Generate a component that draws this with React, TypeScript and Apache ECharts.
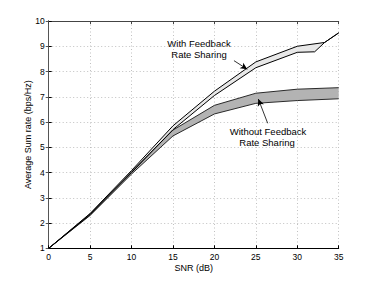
import React, { useEffect, useRef } from "react";
import * as echarts from "echarts";

// SNR axis ticks
const xTicks = [0, 5, 10, 15, 20, 25, 30, 35];

// With feedback rate sharing band (upper / lower boundaries)
const withUpperX = [0, 5, 10, 15, 20, 25, 30, 33.3, 35];
const withUpperY = [1, 2.38, 4.08, 5.85, 7.22, 8.38, 9.0, 9.15, 9.53];
const withLowerX = [0, 5, 10, 15, 20, 25, 30, 32.1, 33.3, 35];
const withLowerY = [1, 2.33, 4.0, 5.7, 7.05, 8.15, 8.76, 8.78, 9.15, 9.53];

// Without feedback rate sharing band
const withoutX = [0, 5, 10, 15, 20, 25, 30, 35];
const withoutUpperY = [1, 2.36, 4.03, 5.68, 6.66, 7.14, 7.3, 7.36];
const withoutLowerY = [1, 2.3, 3.94, 5.45, 6.32, 6.74, 6.85, 6.92];

// Annotation arrows (data coordinates: [from], [to])
const withArrow = [[22.36, 8.43], [23.97, 8.09]];
const withoutArrow = [[26.43, 5.95], [25.3, 6.91]];

const zip = (xs: number[], ys: number[]) => xs.map((x, i) => [x, ys[i]]);

export default function App() {
  const ref = useRef<HTMLDivElement>(null);
  useEffect(() => {
    if (!ref.current) return;
    const chart = echarts.init(ref.current, undefined, { renderer: "svg" });
    const font = "Liberation Sans, Arial, Helvetica, sans-serif";

    const band = (upper: number[][], lower: number[][], fill: string) => ({
      type: "custom",
      clip: true,
      silent: true,
      data: [[0, 1]],
      renderItem: (_p: any, api: any) => {
        const pts = [
          ...upper.map((p) => api.coord(p)),
          ...lower
            .slice()
            .reverse()
            .map((p) => api.coord(p)),
        ];
        return { type: "polygon", shape: { points: pts }, style: { fill, stroke: "none" } };
      },
    });

    const line = (data: number[][], color: string, extra: any = {}) => ({
      type: "line",
      data,
      symbol: "none",
      lineStyle: { color, width: 1 },
      silent: true,
      ...extra,
    });

    const arrowMark = {
      silent: true,
      symbol: ["none", "arrow"],
      symbolSize: [5, 7],
      label: { show: false },
      lineStyle: { color: "#000", width: 0.8, type: "solid" },
      data: [
        [{ coord: withArrow[0] }, { coord: withArrow[1] }],
        [{ coord: withoutArrow[0] }, { coord: withoutArrow[1] }],
      ],
    };

    const axisCommon = {
      axisLine: { show: true, lineStyle: { color: "#000", width: 1 } },
      axisTick: { show: true, inside: true, length: 3, lineStyle: { color: "#000" } },
    };

    chart.setOption({
      animation: false,
      backgroundColor: "#fff",
      grid: { left: 48.7, right: 35.3, top: 21, bottom: 32.7 },
      xAxis: [
        {
          type: "value",
          min: 0,
          max: 35,
          interval: 5,
          name: "SNR (dB)",
          nameLocation: "middle",
          nameGap: 15,
          nameMoveOverlap: false,
          nameTextStyle: { fontFamily: font, fontSize: 9, color: "#000" },
          axisLabel: { fontFamily: font, fontSize: 8.5, color: "#000", margin: 4 },
          splitLine: { show: true, lineStyle: { color: "#b0b0b0", type: [1, 2.5], width: 0.8 } },
          ...axisCommon,
        },
        {
          type: "value",
          position: "top",
          min: 0,
          max: 35,
          interval: 5,
          axisLabel: { show: false },
          splitLine: { show: false },
          axisLine: { show: true, lineStyle: { color: "#444", width: 1 } },
          axisTick: { show: true, inside: true, length: 3, lineStyle: { color: "#444" } },
        },
      ],
      yAxis: [
        {
          type: "value",
          min: 1,
          max: 10,
          interval: 1,
          name: "Average Sum rate (bps/Hz)",
          nameLocation: "middle",
          nameGap: 16,
          nameMoveOverlap: false,
          nameTextStyle: { fontFamily: font, fontSize: 9, color: "#000" },
          axisLabel: { fontFamily: font, fontSize: 8.5, color: "#000", margin: 4 },
          splitLine: { show: true, lineStyle: { color: "#b0b0b0", type: [1, 2.5], width: 0.8 } },
          ...axisCommon,
        },
        {
          type: "value",
          position: "right",
          min: 1,
          max: 10,
          interval: 1,
          axisLabel: { show: false },
          splitLine: { show: false },
          axisLine: { show: true, lineStyle: { color: "#555", width: 1 } },
          axisTick: { show: true, inside: true, length: 3, lineStyle: { color: "#555" } },
        },
      ],
      series: [
        band(zip(withoutX, withoutUpperY), zip(withoutX, withoutLowerY), "#b3b3b3"),
        band(zip(withUpperX, withUpperY), zip(withLowerX, withLowerY), "#e8e8e8"),
        line(zip(withoutX, withoutUpperY), "#2a2a2a"),
        line(zip(withoutX, withoutLowerY), "#2a2a2a"),
        line(zip(withUpperX, withUpperY), "#000"),
        line(zip(withLowerX, withLowerY), "#000", { markLine: arrowMark }),
      ],
      graphic: [
        { type: "text", x: 199, y: 43, style: { text: "With Feedback", font: `9.5px ${font}`, fill: "#000", textAlign: "center", textVerticalAlign: "middle" } },
        { type: "text", x: 199, y: 54, style: { text: "Rate Sharing", font: `9.5px ${font}`, fill: "#000", textAlign: "center", textVerticalAlign: "middle" } },
        { type: "text", x: 268, y: 131, style: { text: "Without Feedback", font: `9.5px ${font}`, fill: "#000", textAlign: "center", textVerticalAlign: "middle" } },
        { type: "text", x: 267, y: 142.5, style: { text: "Rate Sharing", font: `9.5px ${font}`, fill: "#000", textAlign: "center", textVerticalAlign: "middle" } },
      ],
    });
    return () => chart.dispose();
  }, []);
  return (
    <div
      ref={ref}
      style={{ position: "fixed", left: 0, top: 0, width: 374, height: 281, background: "#fff" }}
    />
  );
}
